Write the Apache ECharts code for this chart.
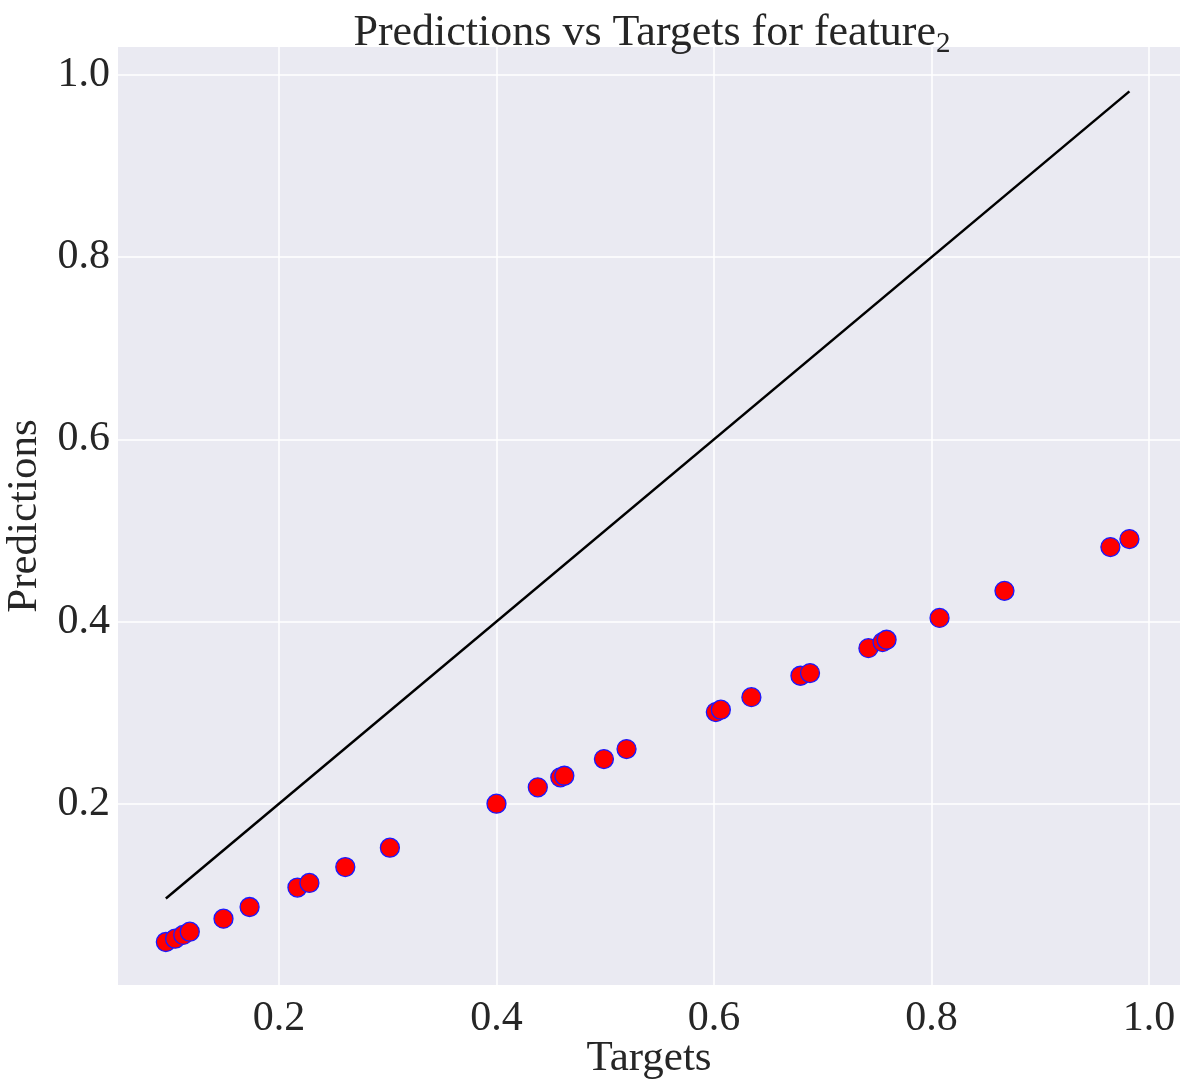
<!DOCTYPE html>
<html>
<head>
<meta charset="utf-8">
<script src="https://cdn.jsdelivr.net/npm/echarts@6/dist/echarts.min.js"></script>
<style>
  html, body { margin: 0; padding: 0; background: #fff; }
  #main { width: 1188px; height: 1089px; }
</style>
</head>
<body>
<div id="main"></div>
<script>
// targets / predictions
var targets = [0.096, 0.1045, 0.112, 0.118, 0.149, 0.173, 0.217, 0.228, 0.261, 0.302,
               0.400, 0.438, 0.4587, 0.4624, 0.4988, 0.5196, 0.6017, 0.6063, 0.6344,
               0.6795, 0.6883, 0.742, 0.755, 0.7587, 0.8074, 0.8671, 0.9645, 0.982];
var predictions = [0.0482, 0.0518, 0.056, 0.0595, 0.0738, 0.0866, 0.108, 0.113, 0.1305, 0.1517,
                   0.200, 0.218, 0.229, 0.2307, 0.249, 0.260, 0.3006, 0.3032, 0.317,
                   0.3405, 0.3434, 0.3708, 0.3774, 0.380, 0.404, 0.4337, 0.4817, 0.4905];
var tickValues = [0.2, 0.4, 0.6, 0.8, 1.0];

var font = '"Liberation Serif", "DejaVu Serif", serif';
var points = targets.map(function (t, i) { return [t, predictions[i]]; });
var lo = Math.min.apply(null, targets), hi = Math.max.apply(null, targets);

var myChart = echarts.init(document.getElementById('main'));
var option = {
    animation: false,
    title: {
        text: '{a|Predictions vs Targets for feature}{s|2}',
        left: 647,
        textAlign: 'center',
        top: 3,
        textStyle: {
            fontWeight: 'normal',
            rich: {
                a: { fontFamily: font, fontSize: 44, fontWeight: 'normal', color: '#262626', lineHeight: 46 },
                s: { fontFamily: font, fontSize: 29, fontWeight: 'normal', color: '#262626', padding: [22, 0, 0, 0] }
            }
        }
    },
    grid: { left: 118, right: 8, top: 47, bottom: 104, containLabel: false, outerBoundsMode: 'none',
            backgroundColor: '#EAEAF2', show: true, borderWidth: 0 },
    xAxis: {
        type: 'value', min: 0.052, max: 1.0285,
        name: 'Targets', nameLocation: 'middle', nameGap: 52, nameMoveOverlap: false,
        nameTextStyle: { fontFamily: font, fontSize: 43, color: '#262626' },
        axisLine: { show: false }, axisTick: { show: false, customValues: tickValues },
        axisLabel: { customValues: tickValues, fontFamily: font, fontSize: 42, color: '#262626', margin: 13,
                     formatter: function (v) { return v.toFixed(1); } },
        splitLine: { show: true, lineStyle: { color: '#ffffff', width: 1.5 } }
    },
    yAxis: {
        type: 'value', min: 0.001, max: 1.0307,
        name: 'Predictions', nameLocation: 'middle', nameGap: 72,
        nameTextStyle: { fontFamily: font, fontSize: 43, color: '#262626' },
        axisLine: { show: false }, axisTick: { show: false, customValues: tickValues },
        axisLabel: { customValues: tickValues, fontFamily: font, fontSize: 42, color: '#262626', margin: 8,
                     formatter: function (v) { return v.toFixed(1); } },
        splitLine: { show: true, lineStyle: { color: '#ffffff', width: 1.5 } }
    },
    series: [
        {
            type: 'line',
            data: [[lo, lo], [hi, hi]],
            symbol: 'none',
            lineStyle: { color: '#000000', width: 2.5 },
            z: 2
        },
        {
            type: 'scatter',
            data: points,
            symbolSize: 19,
            itemStyle: { color: '#ff0000', borderColor: '#1a1aff', borderWidth: 1.3, opacity: 1 },
            z: 3
        }
    ]
};
myChart.setOption(option);
</script>
</body>
</html>
